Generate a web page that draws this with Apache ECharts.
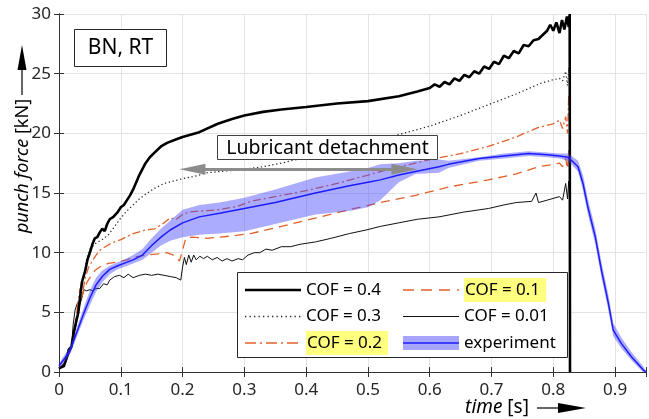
<!DOCTYPE html>
<html><head><meta charset="utf-8">
<script src="https://cdn.jsdelivr.net/npm/echarts@6/dist/echarts.min.js"></script>
<style>html,body{margin:0;padding:0;background:#fff}#c{width:649px;height:419px}</style>
</head><body><div id="c"></div>
<script>
// ---- data (time [s], punch force [kN]) ----
const cof04 = [[0,0.3],[0.008,0.5],[0.013,1.3],[0.016,1.9],[0.02,2.1],[0.024,3.3],[0.028,4.3],[0.031,4.9],[0.034,6.2],[0.037,7.5],[0.04,7.6],[0.043,8.6],[0.046,9.4],[0.05,10.0],[0.054,10.7],[0.058,11.2],[0.062,11.3],[0.066,11.7],[0.07,12.0],[0.074,11.8],[0.078,12.4],[0.082,12.8],[0.088,13.0],[0.095,13.4],[0.1,13.8],[0.105,14.0],[0.11,14.4],[0.115,14.8],[0.12,15.3],[0.125,15.9],[0.13,16.5],[0.135,17.0],[0.14,17.5],[0.147,18.0],[0.155,18.4],[0.165,18.9],[0.175,19.2],[0.19,19.5],[0.2,19.7],[0.227,20.1],[0.257,20.8],[0.28,21.2],[0.3,21.5],[0.33,21.8],[0.36,22.0],[0.4,22.2],[0.45,22.5],[0.5,22.7],[0.55,23.1],[0.58,23.5],[0.6,23.8],[0.608,24.1],[0.616,23.9],[0.624,24.3],[0.632,24.1],[0.64,24.6],[0.648,24.4],[0.656,24.9],[0.664,24.7],[0.672,25.2],[0.68,25.0],[0.688,25.6],[0.696,25.4],[0.704,26.0],[0.712,25.8],[0.72,26.5],[0.728,26.3],[0.736,26.9],[0.744,26.7],[0.752,27.4],[0.76,27.3],[0.768,27.8],[0.776,27.9],[0.784,28.3],[0.79,28.6],[0.795,29.1],[0.8,28.6],[0.805,29.3],[0.81,28.4],[0.814,29.5],[0.818,28.7],[0.822,29.8],[0.825,28.9],[0.8265,30],[0.827,0]];
const cof03 = [[0,0.3],[0.01,0.8],[0.02,2.0],[0.03,4.5],[0.035,6.5],[0.04,8.0],[0.045,9.5],[0.05,10.3],[0.06,10.8],[0.07,11.1],[0.08,11.5],[0.09,12.2],[0.1,12.9],[0.11,13.5],[0.12,14.0],[0.13,14.5],[0.14,14.9],[0.155,15.4],[0.17,15.8],[0.185,16.0],[0.2,16.2],[0.22,16.4],[0.24,16.7],[0.26,16.8],[0.28,16.9],[0.3,17.0],[0.33,17.2],[0.36,17.5],[0.4,18.0],[0.45,18.7],[0.5,19.3],[0.55,19.9],[0.6,20.6],[0.65,21.5],[0.7,22.5],[0.74,23.3],[0.78,24.2],[0.8,24.5],[0.81,24.6],[0.815,24.4],[0.82,25.2],[0.823,24.0],[0.825,25.5],[0.827,23.5]];
const cof02 = [[0,0.3],[0.01,0.8],[0.02,2.0],[0.025,3.2],[0.03,5.5],[0.034,7.0],[0.038,6.5],[0.042,7.8],[0.048,8.8],[0.055,9.4],[0.06,9.8],[0.066,10.2],[0.075,10.5],[0.085,10.8],[0.1,11.1],[0.12,11.6],[0.14,11.9],[0.155,12.0],[0.17,12.5],[0.18,12.9],[0.19,12.8],[0.2,13.2],[0.21,13.4],[0.23,13.5],[0.26,13.6],[0.29,13.9],[0.31,14.3],[0.35,14.7],[0.4,15.2],[0.45,15.8],[0.5,16.5],[0.52,16.8],[0.56,17.3],[0.6,17.8],[0.65,18.3],[0.695,18.9],[0.74,19.7],[0.776,20.5],[0.8,20.8],[0.81,21.1],[0.815,20.4],[0.82,21.4],[0.823,20.0],[0.825,23.2],[0.827,20.5]];
const cof01 = [[0,0.3],[0.01,0.8],[0.02,2.0],[0.025,3.0],[0.03,5.5],[0.035,6.0],[0.04,6.8],[0.045,7.5],[0.05,7.9],[0.058,8.5],[0.066,8.8],[0.08,9.1],[0.093,9.2],[0.11,9.4],[0.12,9.6],[0.14,9.8],[0.16,9.9],[0.175,10.0],[0.185,9.8],[0.195,9.3],[0.2,10.2],[0.205,11.2],[0.215,11.3],[0.24,11.2],[0.26,11.3],[0.28,11.4],[0.31,11.6],[0.36,12.2],[0.415,12.9],[0.47,13.6],[0.52,14.2],[0.577,14.8],[0.63,15.5],[0.695,16.1],[0.74,16.6],[0.776,17.2],[0.8,17.4],[0.81,17.5],[0.815,17.2],[0.82,17.9],[0.823,17.0],[0.825,18.6],[0.827,16.5]];
const cof001 = [[0,0.3],[0.01,0.8],[0.02,2.0],[0.023,4.0],[0.026,5.2],[0.03,5.8],[0.033,5.5],[0.037,6.2],[0.04,6.9],[0.045,6.8],[0.05,6.9],[0.055,6.8],[0.06,7.0],[0.066,7.0],[0.072,7.4],[0.078,7.3],[0.082,7.7],[0.09,8.0],[0.098,8.1],[0.105,7.9],[0.112,8.2],[0.12,7.9],[0.13,8.1],[0.14,8.2],[0.15,8.1],[0.16,8.2],[0.17,8.1],[0.18,8.0],[0.19,7.9],[0.197,7.7],[0.2,8.8],[0.203,9.6],[0.206,9.0],[0.21,9.8],[0.214,9.2],[0.218,9.8],[0.222,9.4],[0.228,9.7],[0.234,9.5],[0.24,9.7],[0.248,9.4],[0.256,9.6],[0.264,9.3],[0.272,9.5],[0.28,9.3],[0.29,9.5],[0.297,9.4],[0.306,9.8],[0.316,10.0],[0.325,10.0],[0.335,10.3],[0.345,10.2],[0.36,10.5],[0.375,10.5],[0.39,10.7],[0.415,10.9],[0.44,11.2],[0.47,11.6],[0.497,11.9],[0.52,12.2],[0.55,12.5],[0.58,12.8],[0.615,13.0],[0.655,13.4],[0.695,13.7],[0.72,14.0],[0.74,14.2],[0.765,14.3],[0.772,15.0],[0.776,14.2],[0.79,14.4],[0.81,14.7],[0.815,14.4],[0.82,15.8],[0.823,14.5],[0.825,16.0],[0.827,15.0]];
const expT    = [0,0.01,0.018,0.03,0.04,0.05,0.06,0.07,0.082,0.095,0.105,0.12,0.135,0.15,0.165,0.18,0.2,0.227,0.26,0.3,0.35,0.415,0.47,0.5,0.52,0.55,0.577,0.615,0.63,0.68,0.72,0.76,0.79,0.81,0.824,0.84,0.848,0.856,0.868,0.878,0.889,0.897,0.91,0.926,0.945,0.95];
const expMean = [0.5,1.2,1.8,3.5,4.9,6.2,7.3,8.0,8.6,8.9,9.1,9.4,9.8,10.6,11.3,11.9,12.5,13.0,13.3,13.7,14.2,15.0,15.6,15.9,16.1,16.5,16.8,17.2,17.4,17.9,18.1,18.3,18.2,18.1,18.0,17.2,15.8,13.8,11.3,8.5,5.8,3.5,2.4,1.3,0.2,0];
const expLow  = [0.3,0.9,1.5,3.1,4.4,5.6,6.7,7.5,8.2,8.6,8.8,9.1,9.4,10.0,10.6,11.0,11.3,11.5,11.6,11.8,12.4,13.2,13.5,13.8,14.4,15.9,16.6,16.7,17.1,17.7,17.9,18.1,18.0,17.9,17.7,16.8,15.2,13.2,10.7,7.9,5.2,3.0,2.0,1.0,0.0,0];
const expHigh = [0.7,1.5,2.1,3.9,5.4,6.8,7.9,8.5,8.9,9.2,9.4,9.8,10.3,11.2,12.0,12.7,13.6,14.0,14.2,14.6,15.3,16.3,16.8,17.1,17.4,17.5,17.7,17.8,17.7,18.0,18.3,18.5,18.4,18.3,18.3,17.7,16.5,14.5,12.0,9.2,6.5,4.1,2.9,1.7,0.5,0.1];
const detachArrow = [[0.216,17.0],[0.559,17.0]];

const FONT = 'Noto Sans';
const TXT = '#262626';
const ORANGE = '#e2612b';
const BLUE = '#1c1cff';
const BAND = 'rgba(70,70,255,0.45)';
const HL = '#ffff80';

const expLine = expT.map((t,i)=>[t, expMean[i]]);
const bandData = expT.map((t,i)=>[t, expLow[i], expHigh[i]]);

function svgUrl(inner){
  const s = '<svg xmlns="http://www.w3.org/2000/svg" width="56" height="14">' + inner + '</svg>';
  return 'image://data:image/svg+xml;charset=utf-8,' + encodeURIComponent(s);
}
function lineIcon(color, w, dash){
  return svgUrl('<line x1="0" y1="7" x2="56" y2="7" stroke="' + color + '" stroke-width="' + w + '"' +
    (dash ? ' stroke-dasharray="' + dash + '"' : '') + '/>');
}
const icons = {
  'COF = 0.4': lineIcon('#000', 2.6),
  'COF = 0.3': lineIcon('#222', 1.3, '1.3,3.2'),
  'COF = 0.2': lineIcon(ORANGE, 1.3, '11,4,2,4'),
  'COF = 0.1': lineIcon(ORANGE, 1.3, '11,7'),
  'COF = 0.01': lineIcon('#111', 1.1),
  'experiment': svgUrl('<rect x="0" y="0" width="56" height="14" fill="rgb(166,166,255)"/><line x1="0" y1="7" x2="56" y2="7" stroke="' + BLUE + '" stroke-width="1.6"/>')
};

function legItem(name, hl){
  const o = {name: name, icon: icons[name]};
  if (hl) o.textStyle = {backgroundColor: HL, padding: [3,6,3,1], lineHeight: 18};
  return o;
}
const legCommon = {
  orient: 'vertical', top: 278, itemWidth: 56, itemHeight: 14, itemGap: 2.5, padding: 0,
  selectedMode: false, z: 6,
  textStyle: {fontFamily: FONT, fontSize: 17, color: '#000', lineHeight: 24}
};

const chart = echarts.init(document.getElementById('c'), null, {renderer: 'canvas'});
const axisLine = {show: true, lineStyle: {color: '#333', width: 1}};
const option = {
  animation: false,
  backgroundColor: '#fff',
  grid: {left: 59, right: 1, top: 14, bottom: 47, containLabel: false},
  xAxis: [
    {type: 'value', min: 0, max: 0.95, interval: 0.1, position: 'bottom',
     axisLine: axisLine, axisTick: {show: true, inside: true, length: 5, lineStyle: {color: '#333'}},
     splitLine: {show: true, lineStyle: {color: '#e3e3e3', width: 1}},
     axisLabel: {fontFamily: FONT, fontSize: 17, color: TXT, margin: 10,
       formatter: v => (Math.abs(Math.round(v*10) - v*10) < 1e-6) ? String(Math.round(v*10)/10) : ''}},
    {type: 'value', min: 0, max: 0.95, interval: 0.1, position: 'top',
     axisLine: axisLine, axisTick: {show: true, inside: true, length: 5, lineStyle: {color: '#333'}},
     splitLine: {show: false}, axisLabel: {show: false}}
  ],
  yAxis: [
    {type: 'value', min: 0, max: 30, interval: 5, position: 'left',
     axisLine: axisLine, axisTick: {show: true, inside: true, length: 5, lineStyle: {color: '#333'}},
     splitLine: {show: true, lineStyle: {color: '#e3e3e3', width: 1}},
     axisLabel: {fontFamily: FONT, fontSize: 17, color: TXT, margin: 8}},
    {type: 'value', min: 0, max: 30, interval: 5, position: 'right',
     axisLine: axisLine, axisTick: {show: true, inside: true, length: 5, lineStyle: {color: '#333'}},
     splitLine: {show: false}, axisLabel: {show: false}}
  ],
  legend: [
    Object.assign({}, legCommon, {left: 245, data: [legItem('COF = 0.4'), legItem('COF = 0.3'), legItem('COF = 0.2', true)]}),
    Object.assign({}, legCommon, {left: 403, data: [legItem('COF = 0.1', true), legItem('COF = 0.01'), legItem('experiment')]})
  ],
  series: [
    {name: 'COF = 0.01', type: 'line', data: cof001, symbol: 'none', z: 2,
     lineStyle: {color: '#111', width: 1}},
    {name: 'COF = 0.1', type: 'line', data: cof01, symbol: 'none', z: 2,
     lineStyle: {color: ORANGE, width: 1.3, type: [9, 6]}},
    {name: 'COF = 0.2', type: 'line', data: cof02, symbol: 'none', z: 2,
     lineStyle: {color: ORANGE, width: 1.3, type: [8, 3, 2, 3]}},
    {name: 'COF = 0.3', type: 'line', data: cof03, symbol: 'none', z: 2,
     lineStyle: {color: '#222', width: 1.2, type: [1.3, 2.6]}},
    {name: 'COF = 0.4', type: 'line', data: cof04, symbol: 'none', z: 2,
     lineStyle: {color: '#000', width: 2.6}},
    {name: 'band', type: 'custom', data: bandData, z: 3, silent: true,
     encode: {x: 0, y: [1, 2]},
     renderItem: function(params, api){
       if (params.dataIndex !== 0) return null;
       const pts = [];
       for (let i = 0; i < expT.length; i++) pts.push(api.coord([expT[i], expHigh[i]]));
       for (let i = expT.length - 1; i >= 0; i--) pts.push(api.coord([expT[i], expLow[i]]));
       return {type: 'polygon', shape: {points: pts}, style: {fill: BAND, stroke: null}};
     }},
    {name: 'experiment', type: 'line', data: expLine, symbol: 'none', z: 4,
     lineStyle: {color: BLUE, width: 1.5},
     markLine: {silent: true, symbol: ['triangle', 'triangle'], symbolSize: [11, 26],
       label: {show: false}, lineStyle: {color: '#8c8c8c', width: 3, type: 'solid'},
       data: [[{coord: detachArrow[0]}, {coord: detachArrow[1]}]]}}
  ],
  graphic: [
    // legend frame
    {type: 'rect', z: 5, shape: {x: 237.5, y: 272.5, width: 330, height: 85},
     style: {fill: '#fff', stroke: '#262626', lineWidth: 1}},
    // BN, RT box
    {type: 'rect', z: 5, shape: {x: 74.5, y: 29.5, width: 92, height: 37},
     style: {fill: '#fff', stroke: '#262626', lineWidth: 1}},
    {type: 'text', z: 6, x: 120.5, y: 48, style: {text: 'BN, RT', fontFamily: FONT, fontSize: 21,
     fill: '#000', align: 'center', verticalAlign: 'middle'}},
    // Lubricant detachment box
    {type: 'rect', z: 5, shape: {x: 217.5, y: 135.5, width: 220, height: 24},
     style: {fill: '#fff', stroke: '#404040', lineWidth: 1}},
    {type: 'text', z: 6, x: 327.5, y: 148, style: {text: 'Lubricant detachment', fontFamily: FONT, fontSize: 19.5,
     fill: '#000', align: 'center', verticalAlign: 'middle'}},
    // y axis name
    {type: 'text', z: 6, x: 23, y: 166, rotation: Math.PI/2,
     style: {text: '{i|punch force} [kN]', fontFamily: FONT, fontSize: 18, fill: '#000',
       align: 'center', verticalAlign: 'middle',
       rich: {i: {fontStyle: 'italic', fontFamily: FONT, fontSize: 18, fill: '#000'}}}},
    {type: 'line', z: 6, shape: {x1: 22, y1: 95, x2: 22, y2: 66}, style: {stroke: '#000', lineWidth: 1.2}},
    {type: 'polygon', z: 6, shape: {points: [[22, 45], [17.5, 70], [26.5, 70]]}, style: {fill: '#000'}},
    // x axis name
    {type: 'text', z: 6, x: 497, y: 408,
     style: {text: '{i|time} [s]', fontFamily: FONT, fontSize: 19, fill: '#000',
       align: 'center', verticalAlign: 'middle',
       rich: {i: {fontStyle: 'italic', fontFamily: FONT, fontSize: 19, fill: '#000'}}}},
    {type: 'line', z: 6, shape: {x1: 537, y1: 408, x2: 562, y2: 408}, style: {stroke: '#000', lineWidth: 1.2}},
    {type: 'polygon', z: 6, shape: {points: [[586, 408], [558, 403], [558, 413]]}, style: {fill: '#000'}}
  ]
};
chart.setOption(option);
</script></body></html>
